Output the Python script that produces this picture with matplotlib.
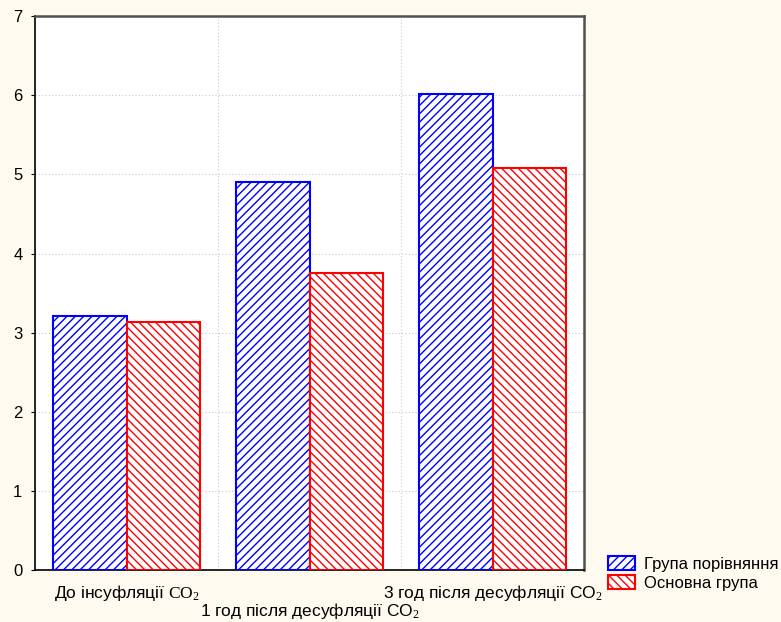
import numpy as np
import matplotlib
matplotlib.use('Agg')
import matplotlib.pyplot as plt
from matplotlib.transforms import blended_transform_factory

plt.rcParams['font.family'] = ['Liberation Sans', 'DejaVu Sans']
plt.rcParams['mathtext.fontset'] = 'custom'
plt.rcParams['mathtext.rm'] = 'Liberation Serif'
plt.rcParams['mathtext.sf'] = 'Liberation Sans'
plt.rcParams['mathtext.it'] = 'Liberation Serif:italic'
plt.rcParams['hatch.linewidth'] = 1.0

categories = [r'До інсуфляції $\mathrm{CO}_2$',
              r'1 год після десуфляції $\mathsf{CO}_2$',
              r'3 год після десуфляції $\mathsf{CO}_2$']
series_names = ['Група порівняння', 'Основна група']
comparison = [3.21, 4.90, 6.02]
main_group = [3.13, 3.76, 5.08]
yticks = [0, 1, 2, 3, 4, 5, 6, 7]

bg = '#FFFAF0'
fig = plt.figure(figsize=(7.81, 6.22), dpi=100, facecolor=bg)
ax = fig.add_axes([0.0448, 0.0836, 0.7032, 0.8904])
ax.set_facecolor('white')

x = np.arange(len(categories))
w = 0.4
ax.bar(x - w / 2, comparison, w, facecolor='white', edgecolor='blue',
       hatch='////', linewidth=1.5, label=series_names[0], zorder=3)
ax.bar(x + w / 2, main_group, w, facecolor='white', edgecolor='red',
       hatch='\\\\\\\\', linewidth=1.5, label=series_names[1], zorder=3)

ax.set_xlim(-0.5, len(categories) - 0.5)
ax.set_ylim(0, 7)
ax.set_yticks(yticks)
ax.set_yticklabels([str(t) for t in yticks], fontsize=12)
ax.set_xticks(np.arange(len(categories) - 1) + 0.5)
ax.set_xticklabels([])
ax.tick_params(axis='x', length=0)
ax.tick_params(axis='y', length=3, direction='out', pad=6)

ax.grid(True, axis='both', linestyle=(0, (1, 2)), color='#c8c8c8', linewidth=0.8, zorder=0)

for s in ['left', 'bottom']:
    ax.spines[s].set_color('black')
    ax.spines[s].set_linewidth(1.2)
for s in ['top', 'right']:
    ax.spines[s].set_color('#505050')
    ax.spines[s].set_linewidth(1.8)

trans = blended_transform_factory(ax.transData, ax.transAxes)
offsets = [-0.041, -0.074, -0.041]
for i, lab in enumerate(categories):
    ax.text(x[i], offsets[i], lab, transform=trans, ha='center', va='center',
            fontsize=12.5)

handles, labels = ax.get_legend_handles_labels()
fig.legend(handles, labels, loc='lower left', bbox_to_anchor=(0.779, 0.05),
           frameon=False, fontsize=12, handlelength=1.6, handleheight=0.95,
           labelspacing=0.2, handletextpad=0.55, borderpad=0, borderaxespad=0)

fig.savefig('out.png', dpi=100, facecolor=bg)
